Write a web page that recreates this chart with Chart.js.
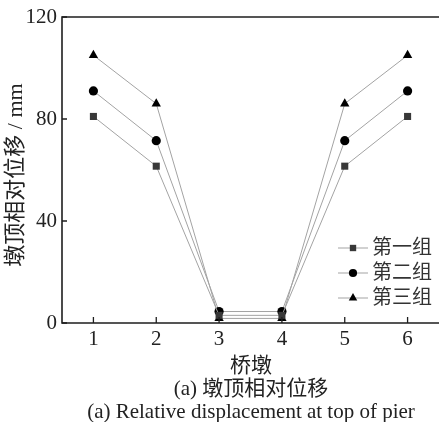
<!DOCTYPE html>
<html>
<head>
<meta charset="utf-8">
<script src="https://cdn.jsdelivr.net/npm/chart.js@4.4.1/dist/chart.umd.min.js"></script>
<style>
body { margin: 0; background: #fff; }
#wrap { position: relative; width: 439px; height: 422px; overflow: hidden; }
#chart { position: absolute; left: 0; top: 0; }
.cap {
    position: absolute; left: 62px; width: 378px; text-align: center;
    font-family: "Liberation Serif", "Noto Sans CJK SC", serif;
    font-size: 21px; line-height: 21px; color: #222; white-space: nowrap;
}
</style>
</head>
<body>
<div id="wrap">
    <canvas id="chart" width="439" height="422"></canvas>
    <div class="cap" style="top:355px">桥墩</div>
    <div class="cap" style="top:378px">(a) 墩顶相对位移</div>
    <div class="cap" style="top:401px">(a) Relative displacement at top of pier</div>
</div>
<script>
// Pier numbers on the x axis
const piers = ['1', '2', '3', '4', '5', '6'];

// Relative displacement at pier top (mm), one array per group
const group1 = [81, 61.5, 3, 3, 61.5, 81];
const group2 = [91, 71.5, 4.5, 4.5, 71.5, 91];
const group3 = [105, 86, 1.8, 1.8, 86, 105];

const seriesNames = ['第一组', '第二组', '第三组'];
const yTicks = [0, 40, 80, 120];
const yTitle = '墩顶相对位移 / mm';

const FONT = '"Liberation Serif", "Noto Sans CJK SC", serif';
const LINE_COLOR = '#a3a3a3';
const AXIS_COLOR = '#1e1e1e';

function makeSeries(label, data, style, color, radius) {
    return {
        label,
        data,
        borderColor: LINE_COLOR,
        borderWidth: 1,
        pointStyle: style,
        pointRadius: radius,
        pointBackgroundColor: color,
        pointBorderColor: color,
        pointBorderWidth: 0,
        clip: false,
        tension: 0
    };
}

// Axes frame, inward ticks, y title and the legend are drawn here
const framePlugin = {
    id: 'frame',
    afterDraw(chart) {
        const { ctx, chartArea: a, scales } = chart;
        ctx.save();
        ctx.strokeStyle = AXIS_COLOR;
        ctx.lineWidth = 1.6;
        ctx.beginPath();
        ctx.moveTo(a.right + 1, a.top);
        ctx.lineTo(a.left, a.top);
        ctx.lineTo(a.left, a.bottom);
        ctx.lineTo(a.right + 1, a.bottom);
        ctx.stroke();

        ctx.lineWidth = 1.3;
        ctx.beginPath();
        for (const v of yTicks) {
            const y = scales.y.getPixelForValue(v);
            ctx.moveTo(a.left, y);
            ctx.lineTo(a.left + 5, y);
        }
        piers.forEach((p, i) => {
            const x = scales.x.getPixelForValue(i);
            ctx.moveTo(x, a.bottom);
            ctx.lineTo(x, a.bottom - 6);
        });
        ctx.stroke();

        // y axis title
        ctx.save();
        ctx.translate(16, (a.top + a.bottom) / 2 + 5);
        ctx.rotate(-Math.PI / 2);
        ctx.fillStyle = '#222';
        ctx.font = '22px ' + FONT;
        ctx.textAlign = 'center';
        ctx.textBaseline = 'middle';
        ctx.fillText(yTitle, 0, 0);
        ctx.restore();

        // legend
        const lx = a.right - 101;
        chart.data.datasets.forEach((ds, i) => {
            const y = a.top + 231 + i * 25;
            ctx.strokeStyle = LINE_COLOR;
            ctx.lineWidth = 1;
            ctx.beginPath();
            ctx.moveTo(lx, y);
            ctx.lineTo(lx + 30, y);
            ctx.stroke();
            ctx.fillStyle = ds.pointBackgroundColor;
            ctx.strokeStyle = ds.pointBorderColor;
            Chart.helpers.drawPoint(ctx, {
                pointStyle: ds.pointStyle, radius: ds.pointRadius - 0.5, rotation: 0, borderWidth: 0
            }, lx + 15, y);
            ctx.fillStyle = '#333';
            ctx.font = '20px ' + FONT;
            ctx.textBaseline = 'middle';
            ctx.textAlign = 'left';
            ctx.fillText(ds.label, lx + 34, y + 1);
        });
        ctx.restore();
    }
};

new Chart(document.getElementById('chart'), {
    type: 'line',
    data: {
        labels: piers,
        datasets: [
            makeSeries(seriesNames[0], group1, 'rect', '#383838', 5),
            makeSeries(seriesNames[1], group2, 'circle', '#000', 4.6),
            makeSeries(seriesNames[2], group3, 'triangle', '#000', 5.4)
        ]
    },
    options: {
        responsive: false,
        animation: false,
        devicePixelRatio: 1,
        layout: { autoPadding: false, padding: { top: 17, right: 0, left: 0, bottom: 0 } },
        plugins: { legend: { display: false }, tooltip: { enabled: false } },
        scales: {
            x: {
                type: 'category',
                offset: true,
                grid: { display: false, drawTicks: false },
                border: { display: false },
                ticks: { color: '#222', font: { family: FONT, size: 21 }, padding: 4, maxRotation: 0 },
                afterFit(scale) {
                    scale.height = 99;
                    scale.paddingLeft = 0;
                    scale.paddingRight = 0;
                }
            },
            y: {
                min: 0,
                max: 120,
                grid: { display: false, drawTicks: false },
                border: { display: false },
                afterBuildTicks(scale) { scale.ticks = yTicks.map(v => ({ value: v })); },
                ticks: { color: '#222', font: { family: FONT, size: 21 }, padding: 5 },
                afterFit(scale) {
                    scale.width = 62;
                    scale.paddingTop = 0;
                    scale.paddingBottom = 0;
                }
            }
        }
    },
    plugins: [framePlugin]
});
</script>
</body>
</html>
